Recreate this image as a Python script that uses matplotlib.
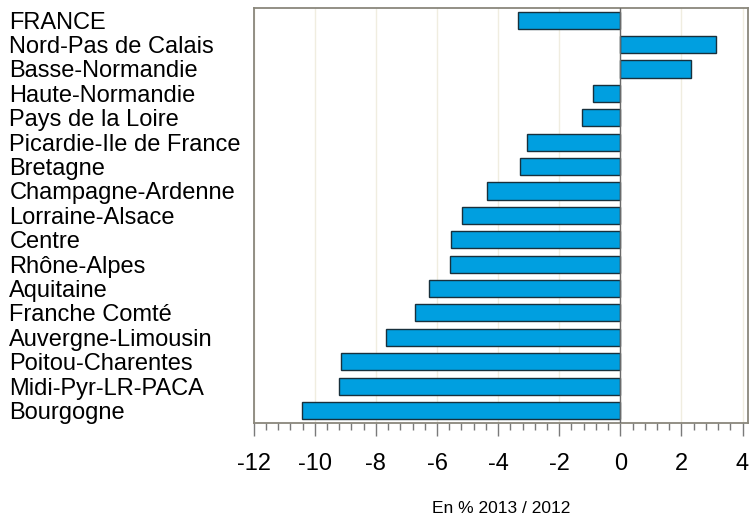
import numpy as np
import matplotlib
matplotlib.use("Agg")
import matplotlib.pyplot as plt
from matplotlib.ticker import MultipleLocator
import matplotlib.transforms as mtransforms

plt.rcParams['font.family'] = ['Liberation Sans', 'DejaVu Sans']

regions = [
    "FRANCE", "Nord-Pas de Calais", "Basse-Normandie", "Haute-Normandie",
    "Pays de la Loire", "Picardie-Ile de France", "Bretagne",
    "Champagne-Ardenne", "Lorraine-Alsace", "Centre", "Rhône-Alpes",
    "Aquitaine", "Franche Comté", "Auvergne-Limousin", "Poitou-Charentes",
    "Midi-Pyr-LR-PACA", "Bourgogne",
]
values = [
    -3.34, 3.13, 2.32, -0.88, -1.26, -3.06, -3.28, -4.37, -5.18, -5.54,
    -5.56, -6.25, -6.72, -7.68, -9.14, -9.21, -10.41,
]
xticks = [-12, -10, -8, -6, -4, -2, 0, 2, 4]

fig = plt.figure(figsize=(7.5, 5.17), dpi=100)
ax = fig.add_axes([0.3383, 0.1824, 0.9970 - 0.3383, 0.9845 - 0.1824])

ypos = np.arange(len(regions))[::-1]
ax.barh(ypos, values, height=0.7, color='#009fe0', edgecolor='#18303c',
        linewidth=1.0, zorder=3)

ax.set_xlim(-12.0, 4.17)
ax.set_ylim(-0.5, len(regions) - 0.5)

# light vertical grid + zero line
for t in xticks:
    ax.axvline(t, color='#f0ede0', linewidth=1.0, zorder=1)
ax.axvline(0, color='#6a6a6a', linewidth=1.0, zorder=4)

ax.set_xticks(xticks)
ax.set_xticklabels([str(t) for t in xticks], fontsize=17)
ax.xaxis.set_minor_locator(MultipleLocator(0.4))
ax.tick_params(axis='x', which='major', direction='out', length=9.5,
               width=1.0, color='#7a7a7a', pad=12)
ax.tick_params(axis='x', which='minor', direction='out', length=5,
               width=1.0, color='#7a7a7a')
ax.set_yticks([])

for s in ax.spines.values():
    s.set_color('#8a877c')
    s.set_linewidth(1.3)

ax.set_xlabel("En % 2013 / 2012", fontsize=12.5, va='center')
ax.xaxis.set_label_coords(0.5, -0.206)

# region labels, left aligned at the figure edge
trans = mtransforms.blended_transform_factory(fig.transFigure, ax.transData)
for y, name in zip(ypos, regions):
    ax.text(0.0125, y, name, transform=trans, ha='left',
            va='center_baseline', fontsize=17, clip_on=False)

fig.savefig("out.png", dpi=100)
